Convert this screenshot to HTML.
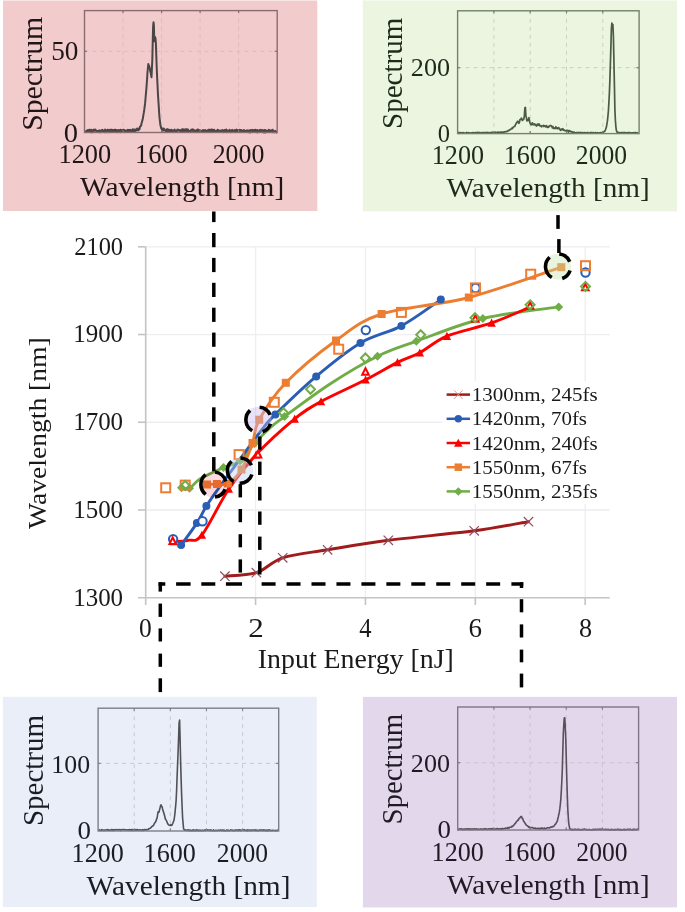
<!DOCTYPE html>
<html><head><meta charset="utf-8"><style>
html,body{margin:0;padding:0;background:#fff;width:685px;height:912px;overflow:hidden}
svg{display:block}
text{font-family:"Liberation Serif",serif}
</style></head><body>
<svg width="685" height="912" viewBox="0 0 685 912">
<rect width="685" height="912" fill="#fff"/>
<rect x="3" y="1" width="314.3" height="210" fill="#F2CBCD"/>
<line x1="123.04" y1="10.6" x2="123.04" y2="132.5" stroke="#dcbcbe" stroke-width="1" stroke-dasharray="4,4"/>
<line x1="161.58" y1="10.6" x2="161.58" y2="132.5" stroke="#dcbcbe" stroke-width="1" stroke-dasharray="4,4"/>
<line x1="200.12" y1="10.6" x2="200.12" y2="132.5" stroke="#dcbcbe" stroke-width="1" stroke-dasharray="4,4"/>
<line x1="238.66" y1="10.6" x2="238.66" y2="132.5" stroke="#dcbcbe" stroke-width="1" stroke-dasharray="4,4"/>
<line x1="84.5" y1="51.3" x2="277.2" y2="51.3" stroke="#dcbcbe" stroke-width="1" stroke-dasharray="4,4"/>
<polyline points="85.1,130.86 85.5,131.16 85.9,132.18 86.3,130.9 86.7,131.01 87.1,131.23 87.5,130.1 87.9,131.02 88.3,131.35 88.7,131.8 89.1,129.84 89.5,130.43 89.9,129.83 90.3,131.84 90.7,131.51 91.1,129.69 91.5,132.32 91.9,132.27 92.3,131.4 92.7,131.29 93.1,130 93.5,129.6 93.9,131.04 94.3,129.72 94.7,130.09 95.1,130.23 95.5,129.64 95.9,130.85 96.3,130.78 96.7,131.91 97.1,131 97.5,131.34 97.9,130.94 98.3,131.39 98.7,130.82 99.1,130.31 99.5,132.33 99.9,132.32 100.3,131.88 100.7,131.51 101.1,130.41 101.5,130.17 101.9,130.33 102.3,129.72 102.7,131.67 103.1,130.64 103.5,131.89 103.9,130.6 104.3,132.2 104.7,131.88 105.1,129.51 105.5,130.1 105.9,132.05 106.3,130.82 106.7,132.25 107.1,130.61 107.5,129.7 107.9,131.26 108.3,131.68 108.7,130.25 109.1,129.74 109.5,130.42 109.9,132.19 110.3,131.61 110.7,129.82 111.1,130.17 111.5,129.76 111.9,129.65 112.3,131.71 112.7,129.97 113.1,131.04 113.5,130.73 113.9,130 114.3,131.52 114.7,129.83 115.1,131.27 115.5,129.79 115.9,130.64 116.3,130.06 116.7,130.21 117.1,132.18 117.5,131.7 117.9,130.3 118.3,131.93 118.7,130.04 119.1,130.55 119.5,131.84 119.9,131.24 120.3,129.72 120.7,132.21 121.1,130.04 121.5,130.16 121.9,131.6 122.3,130.35 122.7,130.26 123.1,129.64 123.5,129.68 123.9,131.06 124.3,130.11 124.7,131.11 125.1,130.46 125.5,130.69 125.9,132.1 126.3,130.77 126.7,131.02 127.1,131.84 127.5,129.92 127.9,129.84 128.3,131.95 128.7,131.7 129.1,130.1 129.5,129.93 129.9,131.47 130.3,132 130.7,129.88 131.1,131.95 131.5,131.72 131.9,130.9 132.3,130.35 132.7,129.42 133.1,129.2 133.5,131.75 133.9,129.68 134.3,130.94 134.7,129.65 135.1,131.2 135.5,130.52 135.9,129.63 136.3,129.17 136.7,130.54 137.1,128.55 137.5,128.84 137.9,129.61 138.3,130.27 138.7,129.44 139.1,128.23 139.5,129.42 139.9,126.82 140.3,126.47 140.7,126.17 141.1,125.53 141.5,123.47 141.9,122.01 142.3,120.64 142.7,119.29 143.1,116.86 143.5,114.33 143.9,112.17 144.3,109.48 144.7,106.29 145.1,103.16 145.5,98.77 145.9,93.97 146.3,89.58 146.7,84.22 147.1,78.89 147.5,72.24 147.9,68.27 148.3,64.06 148.7,65.35 149.1,65.71 149.5,67.28 149.9,68.78 150.3,71.6 150.7,72.49 151.1,75.06 151.5,77.28 151.9,68.98 152.3,60.28 152.7,43.36 153.1,26.57 153.5,22.25 153.9,25.24 154.3,41.31 154.7,40.98 155.1,36.95 155.5,38.4 155.9,43.35 156.3,55.44 156.7,67.09 157.1,76.4 157.5,84.44 157.9,93.02 158.3,99.75 158.7,105.27 159.1,112.09 159.5,117.43 159.9,120.96 160.3,124.44 160.7,126.33 161.1,128.06 161.5,128.56 161.9,129.1 162.3,130.52 162.7,128.51 163.1,130.48 163.5,128.56 163.9,130.26 164.3,130.02 164.7,129.42 165.1,130.83 165.5,130.37 165.9,130.8 166.3,131.68 166.7,129.82 167.1,129.14 167.5,129.95 167.9,131.01 168.3,129.68 168.7,129.59 169.1,131.66 169.5,130.97 169.9,130.36 170.3,131.62 170.7,130.05 171.1,131 171.5,129.69 171.9,130.34 172.3,131.4 172.7,131.7 173.1,131.61 173.5,130.22 173.9,130.78 174.3,130.04 174.7,129.54 175.1,130.55 175.5,131.5 175.9,131.54 176.3,131.16 176.7,131.83 177.1,129.94 177.5,129.65 177.9,130.44 178.3,129.95 178.7,129.78 179.1,130.34 179.5,130.94 179.9,130.57 180.3,130.07 180.7,131.54 181.1,131.94 181.5,130.46 181.9,129.41 182.3,129.29 182.7,131.65 183.1,129.32 183.5,131.19 183.9,130.81 184.3,130.08 184.7,131.43 185.1,129.27 185.5,129.6 185.9,130.5 186.3,129.3 186.7,131.55 187.1,129.9 187.5,129.63 187.9,129.37 188.3,131 188.7,130.49 189.1,131.01 189.5,131.08 189.9,131.51 190.3,131.94 190.7,131.17 191.1,129.82 191.5,130.59 191.9,129.76 192.3,129.3 192.7,130.59 193.1,131.27 193.5,129.77 193.9,130.04 194.3,130.25 194.7,131.23 195.1,130.74 195.5,131.01 195.9,131.41 196.3,130.39 196.7,131.51 197.1,131.83 197.5,129.54 197.9,131.91 198.3,131.33 198.7,129.67 199.1,130.58 199.5,131.06 199.9,131.86 200.3,130.37 200.7,130.91 201.1,131.78 201.5,131.55 201.9,131.97 202.3,130.63 202.7,131.15 203.1,129.91 203.5,131.36 203.9,131.63 204.3,131.14 204.7,131.35 205.1,129.94 205.5,131.87 205.9,132.1 206.3,132.09 206.7,130.86 207.1,131.57 207.5,130.26 207.9,131.91 208.3,131.76 208.7,130.34 209.1,129.6 209.5,130.61 209.9,130.92 210.3,131.53 210.7,130.75 211.1,129.46 211.5,131.65 211.9,129.57 212.3,131.63 212.7,129.88 213.1,130.33 213.5,131.61 213.9,129.79 214.3,129.82 214.7,130.85 215.1,131.44 215.5,131.76 215.9,131.34 216.3,132.06 216.7,130.8 217.1,132.08 217.5,129.67 217.9,130.05 218.3,130.9 218.7,130.24 219.1,131.48 219.5,131.23 219.9,130.9 220.3,131.8 220.7,131.01 221.1,130.32 221.5,130.52 221.9,131.82 222.3,131.98 222.7,130.04 223.1,131.84 223.5,132.17 223.9,130.93 224.3,131.07 224.7,130.03 225.1,130.97 225.5,130.88 225.9,131.17 226.3,129.56 226.7,132.2 227.1,130.93 227.5,130.61 227.9,131.73 228.3,131.07 228.7,130.87 229.1,131.43 229.5,129.68 229.9,131.01 230.3,130.66 230.7,132.19 231.1,132.1 231.5,130.27 231.9,130.84 232.3,129.87 232.7,130.73 233.1,131.81 233.5,132.05 233.9,130.86 234.3,130.42 234.7,130.07 235.1,131.27 235.5,132.13 235.9,129.9 236.3,131.72 236.7,129.61 237.1,130.09 237.5,130.19 237.9,131.48 238.3,130.46 238.7,130.55 239.1,131.3 239.5,129.86 239.9,131.61 240.3,129.91 240.7,131 241.1,130.27 241.5,130.13 241.9,131.06 242.3,130.8 242.7,130.63 243.1,130.74 243.5,131.07 243.9,130.04 244.3,130.16 244.7,131.36 245.1,131.39 245.5,131.08 245.9,131.99 246.3,131.32 246.7,132.01 247.1,130.26 247.5,131.69 247.9,131.88 248.3,132.15 248.7,130.51 249.1,130.51 249.5,132.21 249.9,130.24 250.3,132.43 250.7,132.12 251.1,130.01 251.5,130.31 251.9,131.68 252.3,130.37 252.7,129.92 253.1,131.98 253.5,130.83 253.9,131.87 254.3,130.01 254.7,130.79 255.1,131.58 255.5,129.71 255.9,130.23 256.3,131.58 256.7,132.22 257.1,132.38 257.5,130 257.9,131.09 258.3,131.8 258.7,131.09 259.1,131.61 259.5,130.22 259.9,129.89 260.3,129.99 260.7,129.8 261.1,131.24 261.5,131.14 261.9,131.3 262.3,130.12 262.7,130.23 263.1,130.28 263.5,132.07 263.9,132.49 264.3,132.31 264.7,129.99 265.1,129.9 265.5,132.39 265.9,131.02 266.3,131.87 266.7,130.65 267.1,131.04 267.5,131.18 267.9,130.95 268.3,131.43 268.7,129.78 269.1,131.71 269.5,132.12 269.9,130.26 270.3,131.03 270.7,131.83 271.1,130.9 271.5,130.31 271.9,130.23 272.3,131.2 272.7,129.81 273.1,132.28 273.5,132.02 273.9,131.75 274.3,132.19 274.7,131.55 275.1,130.92 275.5,131.47 275.9,131.2 276.3,132.55 276.7,132.05" fill="none" stroke="#4a4646" stroke-width="2.0" stroke-linejoin="round"/>
<rect x="84.5" y="10.6" width="192.7" height="121.9" fill="none" stroke="#8a6d70" stroke-width="1.4"/>
<line x1="123.04" y1="10.6" x2="123.04" y2="13.1" stroke="#8a6d70" stroke-width="1.2"/>
<line x1="123.04" y1="132.5" x2="123.04" y2="130" stroke="#8a6d70" stroke-width="1.2"/>
<line x1="161.58" y1="10.6" x2="161.58" y2="13.1" stroke="#8a6d70" stroke-width="1.2"/>
<line x1="161.58" y1="132.5" x2="161.58" y2="130" stroke="#8a6d70" stroke-width="1.2"/>
<line x1="200.12" y1="10.6" x2="200.12" y2="13.1" stroke="#8a6d70" stroke-width="1.2"/>
<line x1="200.12" y1="132.5" x2="200.12" y2="130" stroke="#8a6d70" stroke-width="1.2"/>
<line x1="238.66" y1="10.6" x2="238.66" y2="13.1" stroke="#8a6d70" stroke-width="1.2"/>
<line x1="238.66" y1="132.5" x2="238.66" y2="130" stroke="#8a6d70" stroke-width="1.2"/>
<line x1="84.5" y1="51.3" x2="87" y2="51.3" stroke="#8a6d70" stroke-width="1.2"/>
<line x1="277.2" y1="51.3" x2="274.7" y2="51.3" stroke="#8a6d70" stroke-width="1.2"/>
<text x="0" y="0" transform="translate(51.17,60.23)" font-size="27.11" fill="#201616" textLength="27.22" lengthAdjust="spacingAndGlyphs">50</text>
<text x="0" y="0" transform="translate(63.76,142.13)" font-size="26.96" fill="#201616" textLength="14.29" lengthAdjust="spacingAndGlyphs">0</text>
<text x="0" y="0" transform="translate(58.46,163.23)" font-size="26.67" fill="#201616" textLength="52.8" lengthAdjust="spacingAndGlyphs">1200</text>
<text x="0" y="0" transform="translate(134.96,163.23)" font-size="26.67" fill="#201616" textLength="52.8" lengthAdjust="spacingAndGlyphs">1600</text>
<text x="0" y="0" transform="translate(212.64,163.23)" font-size="26.67" fill="#201616" textLength="51.7" lengthAdjust="spacingAndGlyphs">2000</text>
<text x="0" y="0" transform="translate(80.1,196.48) scale(1,0.93)" font-size="28.46" fill="#201616" textLength="204.1" lengthAdjust="spacingAndGlyphs">Wavelength [nm]</text>
<text x="0" y="0" transform="translate(42.37,130.84) rotate(-90) scale(1,0.93)" font-size="31.77" fill="#201616" textLength="114.11" lengthAdjust="spacingAndGlyphs">Spectrum</text>
<rect x="362.8" y="1" width="314.2" height="210.4" fill="#EBF5E0"/>
<line x1="493.9" y1="10.8" x2="493.9" y2="133.6" stroke="#c8d4be" stroke-width="1" stroke-dasharray="4,4"/>
<line x1="530.2" y1="10.8" x2="530.2" y2="133.6" stroke="#c8d4be" stroke-width="1" stroke-dasharray="4,4"/>
<line x1="566.5" y1="10.8" x2="566.5" y2="133.6" stroke="#c8d4be" stroke-width="1" stroke-dasharray="4,4"/>
<line x1="602.8" y1="10.8" x2="602.8" y2="133.6" stroke="#c8d4be" stroke-width="1" stroke-dasharray="4,4"/>
<line x1="457.6" y1="67.7" x2="639.1" y2="67.7" stroke="#c8d4be" stroke-width="1" stroke-dasharray="4,4"/>
<polyline points="457.9,133.26 458.4,132.61 458.9,132.51 459.4,133.28 459.9,132.63 460.4,132.57 460.9,132.99 461.4,132.75 461.9,133.18 462.4,132.65 462.9,133.23 463.4,132.71 463.9,132.93 464.4,133.19 464.9,132.99 465.4,133.18 465.9,133 466.4,132.47 466.9,133.13 467.4,132.89 467.9,132.67 468.4,132.57 468.9,133.09 469.4,132.87 469.9,133.15 470.4,133.02 470.9,133.16 471.4,132.84 471.9,132.94 472.4,132.87 472.9,132.58 473.4,133.14 473.9,132.62 474.4,132.99 474.9,133.12 475.4,132.88 475.9,132.47 476.4,133.01 476.9,132.88 477.4,132.49 477.9,132.38 478.4,132.76 478.9,132.35 479.4,133.07 479.9,132.73 480.4,132.73 480.9,132.64 481.4,132.84 481.9,133.04 482.4,132.55 482.9,132.6 483.4,132.76 483.9,132.53 484.4,132.76 484.9,132.72 485.4,132.62 485.9,132.81 486.4,132.69 486.9,132.34 487.4,133.06 487.9,132.54 488.4,132.6 488.9,132.57 489.4,132.99 489.9,133 490.4,132.65 490.9,132.55 491.4,132.31 491.9,132.94 492.4,132.36 492.9,132.65 493.4,132.49 493.9,132.47 494.4,132.49 494.9,132.35 495.4,132.21 495.9,132.57 496.4,132.75 496.9,132.6 497.4,132.22 497.9,132.58 498.4,132.04 498.9,132.29 499.4,132.6 499.9,132.64 500.4,132.23 500.9,132.49 501.4,132.16 501.9,132.13 502.4,132.13 502.9,132.4 503.4,132.15 503.9,131.89 504.4,132.04 504.9,131.92 505.4,131.58 505.9,131.79 506.4,131.68 506.9,131.38 507.4,131.51 507.9,130.64 508.4,130.75 508.9,130.55 509.4,130 509.9,129.55 510.4,129.65 510.9,129.14 511.4,128.69 511.9,128.2 512.4,128.54 512.9,127.63 513.4,127.03 513.9,126.69 514.4,126.3 514.9,126.38 515.4,124.69 515.9,124.05 516.4,122.86 516.9,122.77 517.4,121.42 517.9,121.34 518.4,122.51 518.9,123.27 519.4,122.37 519.9,119.78 520.4,119.46 520.9,119.4 521.4,118.1 521.9,119.11 522.4,120.35 522.9,119.68 523.4,119.68 523.9,118.88 524.4,115.13 524.9,107.7 525.4,107.46 525.9,115.95 526.4,117.63 526.9,120.91 527.4,119.82 527.9,120.65 528.4,119.54 528.9,117.74 529.4,120.23 529.9,122.61 530.4,123.65 530.9,124.73 531.4,123.52 531.9,124.69 532.4,122.87 532.9,123.82 533.4,124.74 533.9,124.79 534.4,123.9 534.9,124.84 535.4,124.38 535.9,125.12 536.4,126.09 536.9,125.84 537.4,124.05 537.9,124.63 538.4,124.98 538.9,123.88 539.4,125.37 539.9,125.89 540.4,125.54 540.9,125.49 541.4,126.8 541.9,126.46 542.4,125.74 542.9,125.76 543.4,125.35 543.9,126.54 544.4,125.72 544.9,125.93 545.4,126.33 545.9,126.9 546.4,125.58 546.9,126.26 547.4,127.45 547.9,127.47 548.4,126.64 548.9,127.01 549.4,125.92 549.9,125.69 550.4,125.3 550.9,125.79 551.4,125.74 551.9,126.64 552.4,127.87 552.9,126.57 553.4,127.72 553.9,128.66 554.4,128.13 554.9,127.9 555.4,128.3 555.9,126.73 556.4,128.5 556.9,127.89 557.4,128.38 557.9,128.75 558.4,127.63 558.9,127.9 559.4,128.46 559.9,129.44 560.4,130.31 560.9,130.17 561.4,129.09 561.9,129.43 562.4,129.58 562.9,128.68 563.4,130.14 563.9,130.33 564.4,130.15 564.9,130.75 565.4,130.8 565.9,130.75 566.4,130.34 566.9,130.51 567.4,130.58 567.9,130.35 568.4,132.22 568.9,131.09 569.4,130.67 569.9,131.39 570.4,131.09 570.9,131.9 571.4,131.81 571.9,131.62 572.4,132.3 572.9,132.24 573.4,132.18 573.9,133.16 574.4,132.21 574.9,132.74 575.4,133.03 575.9,133.15 576.4,132.7 576.9,132.44 577.4,133.17 577.9,132.82 578.4,132.58 578.9,132.51 579.4,132.61 579.9,132.66 580.4,132.53 580.9,132.46 581.4,133.22 581.9,133.08 582.4,132.52 582.9,132.81 583.4,133.07 583.9,132.84 584.4,132.49 584.9,132.71 585.4,132.74 585.9,133.17 586.4,132.91 586.9,132.81 587.4,132.95 587.9,132.49 588.4,133 588.9,133.1 589.4,132.99 589.9,132.75 590.4,132.69 590.9,132.47 591.4,132.53 591.9,132.59 592.4,132.83 592.9,133.09 593.4,132.65 593.9,132.85 594.4,132.99 594.9,132.98 595.4,132.5 595.9,133.22 596.4,132.95 596.9,132.73 597.4,132.68 597.9,133.04 598.4,133.24 598.9,132.77 599.4,132.82 599.9,132.95 600.4,132.56 600.9,132.64 601.4,132.95 601.9,132.57 602.4,132.68 602.9,132.13 603.4,132.33 603.9,131.94 604.4,131.17 604.9,131.09 605.4,130 605.9,128.49 606.4,127.08 606.9,123.88 607.4,121.21 607.9,116.42 608.4,110.99 608.9,102.2 609.4,92.81 609.9,79.64 610.4,63.28 610.9,46.36 611.4,28.27 611.9,23.19 612.4,26.44 612.9,24.46 613.4,36.35 613.9,60.22 614.4,84.63 614.9,109.74 615.4,120.77 615.9,127.04 616.4,130.7 616.9,131.72 617.4,132.76 617.9,132.61 618.4,132.41 618.9,132.76 619.4,133.06 619.9,132.54 620.4,133.17 620.9,132.82 621.4,132.55 621.9,132.5 622.4,132.72 622.9,132.81 623.4,132.57 623.9,132.5 624.4,132.83 624.9,132.64 625.4,132.79 625.9,132.8 626.4,133 626.9,132.91 627.4,132.63 627.9,132.59 628.4,133.14 628.9,132.49 629.4,132.55 629.9,132.51 630.4,133.12 630.9,132.89 631.4,133.2 631.9,132.97 632.4,132.74 632.9,132.82 633.4,133.06 633.9,132.66 634.4,133.12 634.9,132.81 635.4,132.52 635.9,132.76 636.4,132.94 636.9,132.61 637.4,133.22 637.9,133.24 638.4,132.91" fill="none" stroke="#4c5a46" stroke-width="1.7" stroke-linejoin="round"/>
<rect x="457.6" y="10.8" width="181.5" height="122.8" fill="none" stroke="#73826b" stroke-width="1.4"/>
<line x1="493.9" y1="10.8" x2="493.9" y2="13.3" stroke="#73826b" stroke-width="1.2"/>
<line x1="493.9" y1="133.6" x2="493.9" y2="131.1" stroke="#73826b" stroke-width="1.2"/>
<line x1="530.2" y1="10.8" x2="530.2" y2="13.3" stroke="#73826b" stroke-width="1.2"/>
<line x1="530.2" y1="133.6" x2="530.2" y2="131.1" stroke="#73826b" stroke-width="1.2"/>
<line x1="566.5" y1="10.8" x2="566.5" y2="13.3" stroke="#73826b" stroke-width="1.2"/>
<line x1="566.5" y1="133.6" x2="566.5" y2="131.1" stroke="#73826b" stroke-width="1.2"/>
<line x1="602.8" y1="10.8" x2="602.8" y2="13.3" stroke="#73826b" stroke-width="1.2"/>
<line x1="602.8" y1="133.6" x2="602.8" y2="131.1" stroke="#73826b" stroke-width="1.2"/>
<line x1="457.6" y1="67.7" x2="460.1" y2="67.7" stroke="#73826b" stroke-width="1.2"/>
<line x1="639.1" y1="67.7" x2="636.6" y2="67.7" stroke="#73826b" stroke-width="1.2"/>
<text x="0" y="0" transform="translate(410.82,76.35)" font-size="25.19" fill="#1e2a1a" textLength="39.22" lengthAdjust="spacingAndGlyphs">200</text>
<text x="0" y="0" transform="translate(437.72,142.26)" font-size="24.15" fill="#1e2a1a" textLength="12.26" lengthAdjust="spacingAndGlyphs">0</text>
<text x="0" y="0" transform="translate(431.78,164.13)" font-size="26.67" fill="#1e2a1a" textLength="52.27" lengthAdjust="spacingAndGlyphs">1200</text>
<text x="0" y="0" transform="translate(503.78,164.13)" font-size="26.67" fill="#1e2a1a" textLength="52.27" lengthAdjust="spacingAndGlyphs">1600</text>
<text x="0" y="0" transform="translate(575.85,164.13)" font-size="26.67" fill="#1e2a1a" textLength="51.17" lengthAdjust="spacingAndGlyphs">2000</text>
<text x="0" y="0" transform="translate(446.6,197.41) scale(1,0.93)" font-size="28.79" fill="#1e2a1a" textLength="203.19" lengthAdjust="spacingAndGlyphs">Wavelength [nm]</text>
<text x="0" y="0" transform="translate(402.4,128.89) rotate(-90) scale(1,0.93)" font-size="32.57" fill="#1e2a1a" textLength="111.15" lengthAdjust="spacingAndGlyphs">Spectrum</text>
<rect x="2.8" y="696.8" width="314" height="210.2" fill="#EAEEF8"/>
<line x1="134.22" y1="708.2" x2="134.22" y2="831" stroke="#c5c9d3" stroke-width="1" stroke-dasharray="4,4"/>
<line x1="170.34" y1="708.2" x2="170.34" y2="831" stroke="#c5c9d3" stroke-width="1" stroke-dasharray="4,4"/>
<line x1="206.46" y1="708.2" x2="206.46" y2="831" stroke="#c5c9d3" stroke-width="1" stroke-dasharray="4,4"/>
<line x1="242.58" y1="708.2" x2="242.58" y2="831" stroke="#c5c9d3" stroke-width="1" stroke-dasharray="4,4"/>
<line x1="98.1" y1="763.4" x2="278.7" y2="763.4" stroke="#c5c9d3" stroke-width="1" stroke-dasharray="4,4"/>
<polyline points="98.1,830.07 98.6,830.13 99.1,830.32 99.6,829.78 100.1,830.15 100.6,830.39 101.1,830.41 101.6,829.69 102.1,830.15 102.6,830.12 103.1,830 103.6,830.47 104.1,830.03 104.6,829.95 105.1,830.44 105.6,830.14 106.1,829.8 106.6,829.81 107.1,830 107.6,829.55 108.1,830.11 108.6,830.24 109.1,829.93 109.6,830.35 110.1,830.43 110.6,830.06 111.1,830.18 111.6,829.62 112.1,829.56 112.6,830.48 113.1,829.78 113.6,829.71 114.1,830.4 114.6,830.25 115.1,829.62 115.6,829.82 116.1,829.74 116.6,829.77 117.1,829.51 117.6,830.02 118.1,829.8 118.6,829.89 119.1,829.69 119.6,829.61 120.1,829.53 120.6,830.37 121.1,830.25 121.6,830.06 122.1,829.62 122.6,829.65 123.1,829.62 123.6,829.82 124.1,829.56 124.6,829.78 125.1,829.7 125.6,829.69 126.1,830.15 126.6,829.96 127.1,829.97 127.6,829.86 128.1,830.04 128.6,830.29 129.1,829.81 129.6,829.57 130.1,829.98 130.6,829.88 131.1,830.28 131.6,829.61 132.1,830.37 132.6,829.51 133.1,830.04 133.6,829.94 134.1,829.82 134.6,830.39 135.1,830.2 135.6,829.66 136.1,829.99 136.6,830.11 137.1,829.53 137.6,829.59 138.1,830.1 138.6,830.23 139.1,829.96 139.6,829.92 140.1,830.01 140.6,829.76 141.1,830.38 141.6,830.46 142.1,829.98 142.6,829.52 143.1,829.9 143.6,830.3 144.1,829.82 144.6,829.56 145.1,829.61 145.6,830.1 146.1,829.97 146.6,829.6 147.1,829.75 147.6,829.61 148.1,829.53 148.6,829.12 149.1,828.44 149.6,828.53 150.1,828.34 150.6,827.88 151.1,827.36 151.6,826.79 152.1,826.31 152.6,826.24 153.1,825.61 153.6,825.3 154.1,824.06 154.6,823.09 155.1,822.44 155.6,821.85 156.1,820.65 156.6,819.09 157.1,817.89 157.6,814.58 158.1,811.88 158.6,812.41 159.1,811.94 159.6,809.7 160.1,807.66 160.6,805.42 161.1,804.96 161.6,806.34 162.1,806.8 162.6,809.02 163.1,810.88 163.6,812.17 164.1,813.98 164.6,815.65 165.1,818.1 165.6,819.46 166.1,820 166.6,820.99 167.1,822.2 167.6,823.56 168.1,824.31 168.6,824.77 169.1,825.2 169.6,825.27 170.1,825.46 170.6,824.74 171.1,824.76 171.6,825.41 172.1,824.96 172.6,823.79 173.1,822.55 173.6,821.37 174.1,819.76 174.6,816.1 175.1,811.7 175.6,806.4 176.1,800.78 176.6,790.48 177.1,776.71 177.6,763.73 178.1,751.59 178.6,737.43 179.1,722.8 179.6,720.04 180.1,738.96 180.6,760.64 181.1,778.23 181.6,794.18 182.1,806.54 182.6,817.76 183.1,823.42 183.6,828.95 184.1,829.35 184.6,830.22 185.1,829.74 185.6,830.25 186.1,830.18 186.6,830.08 187.1,830.52 187.6,830.02 188.1,829.84 188.6,829.96 189.1,830.78 189.6,830.15 190.1,829.92 190.6,830.77 191.1,830.45 191.6,830.76 192.1,830.13 192.6,830.61 193.1,829.84 193.6,830.04 194.1,830.59 194.6,830.32 195.1,830.59 195.6,830.19 196.1,830.68 196.6,829.88 197.1,830.42 197.6,829.99 198.1,830 198.6,830.68 199.1,830.23 199.6,830.61 200.1,830.08 200.6,830.53 201.1,830.71 201.6,830.43 202.1,830.03 202.6,830.47 203.1,830.75 203.6,830.6 204.1,830.24 204.6,830.2 205.1,829.9 205.6,830.57 206.1,829.96 206.6,830.02 207.1,829.83 207.6,829.96 208.1,830.18 208.6,830.28 209.1,829.98 209.6,830.22 210.1,830.56 210.6,829.9 211.1,829.94 211.6,830.32 212.1,830.7 212.6,830.72 213.1,830.37 213.6,829.89 214.1,830.67 214.6,830.79 215.1,830.7 215.6,830.33 216.1,830.18 216.6,830.39 217.1,830.59 217.6,830.79 218.1,830.29 218.6,830.31 219.1,830.11 219.6,830.34 220.1,830.34 220.6,830.08 221.1,830.26 221.6,830.72 222.1,830.04 222.6,830.05 223.1,830.1 223.6,830.66 224.1,830.1 224.6,830.63 225.1,830.73 225.6,830.68 226.1,830.6 226.6,829.99 227.1,830.25 227.6,830.62 228.1,830.05 228.6,830.4 229.1,830.67 229.6,830.73 230.1,830.15 230.6,829.92 231.1,829.83 231.6,830.12 232.1,830.35 232.6,830.08 233.1,830.62 233.6,830.45 234.1,830.42 234.6,830.63 235.1,830.13 235.6,830.45 236.1,830.15 236.6,830.09 237.1,829.91 237.6,830.59 238.1,830.7 238.6,829.83 239.1,830.52 239.6,829.86 240.1,830.22 240.6,830.12 241.1,830.7 241.6,830.23 242.1,830.31 242.6,830.16 243.1,830.05 243.6,830.04 244.1,829.86 244.6,829.81 245.1,830.35 245.6,830.54 246.1,830.47 246.6,830.06 247.1,830.79 247.6,829.88 248.1,830.23 248.6,830.13 249.1,829.98 249.6,830.76 250.1,830.52 250.6,829.93 251.1,829.98 251.6,830.61 252.1,830.17 252.6,830.1 253.1,830.1 253.6,830.13 254.1,830.39 254.6,830.11 255.1,830.39 255.6,829.86 256.1,830.34 256.6,830.38 257.1,830.12 257.6,830.67 258.1,830.73 258.6,830.46 259.1,830.21 259.6,829.97 260.1,830.43 260.6,830.09 261.1,829.96 261.6,830.33 262.1,830 262.6,830.44 263.1,830.56 263.6,829.81 264.1,830.43 264.6,829.99 265.1,830.14 265.6,830.52 266.1,830.77 266.6,830.11 267.1,830.55 267.6,830.15 268.1,830.74 268.6,829.97 269.1,830.46 269.6,829.88 270.1,830.36 270.6,830.54 271.1,830.71 271.6,830.57 272.1,830.35 272.6,830.2 273.1,830.43 273.6,830.45 274.1,830.41 274.6,830.51 275.1,830.55 275.6,830.74 276.1,830.42 276.6,830.68 277.1,830.54 277.6,830.18 278.1,830.6" fill="none" stroke="#4f5157" stroke-width="1.6" stroke-linejoin="round"/>
<rect x="98.1" y="708.2" width="180.6" height="122.8" fill="none" stroke="#7c7f8a" stroke-width="1.4"/>
<line x1="134.22" y1="708.2" x2="134.22" y2="710.7" stroke="#7c7f8a" stroke-width="1.2"/>
<line x1="134.22" y1="831" x2="134.22" y2="828.5" stroke="#7c7f8a" stroke-width="1.2"/>
<line x1="170.34" y1="708.2" x2="170.34" y2="710.7" stroke="#7c7f8a" stroke-width="1.2"/>
<line x1="170.34" y1="831" x2="170.34" y2="828.5" stroke="#7c7f8a" stroke-width="1.2"/>
<line x1="206.46" y1="708.2" x2="206.46" y2="710.7" stroke="#7c7f8a" stroke-width="1.2"/>
<line x1="206.46" y1="831" x2="206.46" y2="828.5" stroke="#7c7f8a" stroke-width="1.2"/>
<line x1="242.58" y1="708.2" x2="242.58" y2="710.7" stroke="#7c7f8a" stroke-width="1.2"/>
<line x1="242.58" y1="831" x2="242.58" y2="828.5" stroke="#7c7f8a" stroke-width="1.2"/>
<line x1="98.1" y1="763.4" x2="100.6" y2="763.4" stroke="#7c7f8a" stroke-width="1.2"/>
<line x1="278.7" y1="763.4" x2="276.2" y2="763.4" stroke="#7c7f8a" stroke-width="1.2"/>
<text x="0" y="0" transform="translate(51.31,773.35)" font-size="24.89" fill="#1b1d24" textLength="38.73" lengthAdjust="spacingAndGlyphs">100</text>
<text x="0" y="0" transform="translate(77.62,839.25)" font-size="25.19" fill="#1b1d24" textLength="13.45" lengthAdjust="spacingAndGlyphs">0</text>
<text x="0" y="0" transform="translate(71.58,861.63)" font-size="26.67" fill="#1b1d24" textLength="52.27" lengthAdjust="spacingAndGlyphs">1200</text>
<text x="0" y="0" transform="translate(143.58,861.63)" font-size="26.67" fill="#1b1d24" textLength="52.27" lengthAdjust="spacingAndGlyphs">1600</text>
<text x="0" y="0" transform="translate(216.85,861.63)" font-size="26.67" fill="#1b1d24" textLength="51.17" lengthAdjust="spacingAndGlyphs">2000</text>
<text x="0" y="0" transform="translate(86.6,895.36) scale(1,0.93)" font-size="29.01" fill="#1b1d24" textLength="203.9" lengthAdjust="spacingAndGlyphs">Wavelength [nm]</text>
<text x="0" y="0" transform="translate(42.77,826.08) rotate(-90) scale(1,0.93)" font-size="32.69" fill="#1b1d24" textLength="111.05" lengthAdjust="spacingAndGlyphs">Spectrum</text>
<rect x="362.9" y="696.9" width="314.1" height="210.5" fill="#E3D7EC"/>
<line x1="493.88" y1="707" x2="493.88" y2="830" stroke="#cbc1d5" stroke-width="1" stroke-dasharray="4,4"/>
<line x1="530.06" y1="707" x2="530.06" y2="830" stroke="#cbc1d5" stroke-width="1" stroke-dasharray="4,4"/>
<line x1="566.24" y1="707" x2="566.24" y2="830" stroke="#cbc1d5" stroke-width="1" stroke-dasharray="4,4"/>
<line x1="602.42" y1="707" x2="602.42" y2="830" stroke="#cbc1d5" stroke-width="1" stroke-dasharray="4,4"/>
<line x1="457.7" y1="762.7" x2="638.6" y2="762.7" stroke="#cbc1d5" stroke-width="1" stroke-dasharray="4,4"/>
<polyline points="457.8,829.22 458.3,829.33 458.8,829.62 459.3,829 459.8,829.04 460.3,828.86 460.8,828.93 461.3,828.83 461.8,828.96 462.3,829.28 462.8,829.7 463.3,829.43 463.8,829.15 464.3,829.17 464.8,829.42 465.3,829.09 465.8,828.86 466.3,829.55 466.8,829.34 467.3,828.88 467.8,828.84 468.3,828.86 468.8,829.63 469.3,828.86 469.8,829.33 470.3,829.63 470.8,828.79 471.3,829.1 471.8,829.18 472.3,829.57 472.8,828.91 473.3,828.97 473.8,828.96 474.3,828.78 474.8,829.33 475.3,829.46 475.8,829.11 476.3,828.75 476.8,829.36 477.3,829.37 477.8,829.29 478.3,829 478.8,829.45 479.3,829.26 479.8,829.22 480.3,829.18 480.8,828.9 481.3,829.09 481.8,829.39 482.3,829.29 482.8,828.98 483.3,829.41 483.8,829.42 484.3,828.7 484.8,828.8 485.3,828.85 485.8,828.66 486.3,829.32 486.8,829.23 487.3,829.13 487.8,829.53 488.3,828.95 488.8,828.81 489.3,828.73 489.8,828.93 490.3,829.37 490.8,829.16 491.3,828.66 491.8,829 492.3,828.65 492.8,829.16 493.3,828.71 493.8,828.76 494.3,829.17 494.8,829.34 495.3,829.14 495.8,828.84 496.3,829.16 496.8,828.82 497.3,828.58 497.8,828.81 498.3,829.18 498.8,829.12 499.3,828.73 499.8,829.31 500.3,829.27 500.8,828.72 501.3,829.28 501.8,828.61 502.3,828.38 502.8,828.73 503.3,829 503.8,828.71 504.3,828.61 504.8,828.51 505.3,828.25 505.8,828.16 506.3,828.15 506.8,828.18 507.3,828.44 507.8,827.56 508.3,827.62 508.8,828.14 509.3,827.78 509.8,827.16 510.3,827.3 510.8,827.24 511.3,827.22 511.8,826.23 512.3,826.71 512.8,826.34 513.3,825.45 513.8,825.1 514.3,824.78 514.8,823.67 515.3,823.5 515.8,822.79 516.3,821.76 516.8,821.33 517.3,820.86 517.8,820.02 518.3,820.14 518.8,818.9 519.3,818.26 519.8,817.96 520.3,817.27 520.8,816.69 521.3,816.44 521.8,817.1 522.3,818.47 522.8,818.72 523.3,820.47 523.8,821.49 524.3,822.11 524.8,822.97 525.3,823.34 525.8,824.62 526.3,825 526.8,825.41 527.3,825.67 527.8,825.93 528.3,826.82 528.8,827.33 529.3,826.92 529.8,827.31 530.3,827.62 530.8,827.45 531.3,827.48 531.8,827.65 532.3,827.61 532.8,827.81 533.3,828.12 533.8,828.25 534.3,828.4 534.8,828.13 535.3,828 535.8,828.74 536.3,828.51 536.8,828.58 537.3,828.62 537.8,828.31 538.3,828.59 538.8,828.37 539.3,828.7 539.8,828.87 540.3,828.15 540.8,828.83 541.3,828.19 541.8,828.07 542.3,828.1 542.8,828.52 543.3,828.76 543.8,828.79 544.3,828.08 544.8,828.3 545.3,828.73 545.8,828.66 546.3,828.54 546.8,827.93 547.3,827.87 547.8,827.67 548.3,827.68 548.8,827.72 549.3,827.99 549.8,827.78 550.3,827.18 550.8,826.99 551.3,827.04 551.8,827.23 552.3,826.66 552.8,826.74 553.3,826.45 553.8,826.42 554.3,825.6 554.8,824.82 555.3,824.23 555.8,823.87 556.3,822.73 556.8,821.99 557.3,821.1 557.8,818.78 558.3,816.93 558.8,814.51 559.3,812.39 559.8,808.95 560.3,804.47 560.8,799.45 561.3,791.33 561.8,781.17 562.3,769.94 562.8,751.37 563.3,733.91 563.8,724.49 564.3,717.71 564.8,718.12 565.3,727.93 565.8,739.84 566.3,759.63 566.8,778.78 567.3,795.52 567.8,809.4 568.3,817.45 568.8,824.08 569.3,826.31 569.8,829.14 570.3,829.37 570.8,829.13 571.3,829.56 571.8,829.94 572.3,829.3 572.8,829.87 573.3,829.58 573.8,830 574.3,829.22 574.8,829.49 575.3,829.3 575.8,829.38 576.3,829.95 576.8,829.63 577.3,829.47 577.8,830.02 578.3,829.2 578.8,829.17 579.3,829.84 579.8,829.65 580.3,829.9 580.8,829.6 581.3,830 581.8,829.45 582.3,829.36 582.8,829.95 583.3,829.63 583.8,829.18 584.3,829.16 584.8,829.16 585.3,829.81 585.8,829.72 586.3,829.25 586.8,829.87 587.3,829.85 587.8,829.72 588.3,829.67 588.8,829.54 589.3,829.77 589.8,829.5 590.3,829.98 590.8,829.68 591.3,829.76 591.8,829.98 592.3,830.03 592.8,829.63 593.3,829.25 593.8,829.62 594.3,829.98 594.8,829.34 595.3,829.38 595.8,829.4 596.3,829.36 596.8,829.88 597.3,829.63 597.8,829.23 598.3,829.61 598.8,829.78 599.3,829.17 599.8,829.33 600.3,829.16 600.8,829.78 601.3,829.51 601.8,829.16 602.3,829.37 602.8,829.32 603.3,829.66 603.8,829.53 604.3,829.53 604.8,829.45 605.3,829.19 605.8,829.44 606.3,829.72 606.8,829.63 607.3,829.68 607.8,829.29 608.3,829.19 608.8,829.84 609.3,829.79 609.8,829.74 610.3,830.02 610.8,829.43 611.3,829.81 611.8,829.41 612.3,829.69 612.8,829.97 613.3,829.56 613.8,829.7 614.3,830.04 614.8,829.59 615.3,829.37 615.8,830.01 616.3,829.76 616.8,829.44 617.3,829.4 617.8,829.17 618.3,829.23 618.8,830.03 619.3,829.65 619.8,829.85 620.3,829.37 620.8,829.91 621.3,829.79 621.8,829.94 622.3,829.59 622.8,829.98 623.3,829.66 623.8,829.28 624.3,829.97 624.8,829.42 625.3,829.98 625.8,829.64 626.3,829.51 626.8,829.62 627.3,829.49 627.8,829.22 628.3,829.19 628.8,829.23 629.3,829.96 629.8,829.46 630.3,829.17 630.8,829.51 631.3,829.72 631.8,829.72 632.3,829.97 632.8,829.47 633.3,830.01 633.8,829.16 634.3,829.29 634.8,829.59 635.3,829.73 635.8,829.53 636.3,829.86 636.8,829.64 637.3,829.15 637.8,829.5" fill="none" stroke="#55505a" stroke-width="1.6" stroke-linejoin="round"/>
<rect x="457.7" y="707" width="180.9" height="123" fill="none" stroke="#807689" stroke-width="1.4"/>
<line x1="493.88" y1="707" x2="493.88" y2="709.5" stroke="#807689" stroke-width="1.2"/>
<line x1="493.88" y1="830" x2="493.88" y2="827.5" stroke="#807689" stroke-width="1.2"/>
<line x1="530.06" y1="707" x2="530.06" y2="709.5" stroke="#807689" stroke-width="1.2"/>
<line x1="530.06" y1="830" x2="530.06" y2="827.5" stroke="#807689" stroke-width="1.2"/>
<line x1="566.24" y1="707" x2="566.24" y2="709.5" stroke="#807689" stroke-width="1.2"/>
<line x1="566.24" y1="830" x2="566.24" y2="827.5" stroke="#807689" stroke-width="1.2"/>
<line x1="602.42" y1="707" x2="602.42" y2="709.5" stroke="#807689" stroke-width="1.2"/>
<line x1="602.42" y1="830" x2="602.42" y2="827.5" stroke="#807689" stroke-width="1.2"/>
<line x1="457.7" y1="762.7" x2="460.2" y2="762.7" stroke="#807689" stroke-width="1.2"/>
<line x1="638.6" y1="762.7" x2="636.1" y2="762.7" stroke="#807689" stroke-width="1.2"/>
<text x="0" y="0" transform="translate(410.82,771.75)" font-size="24.74" fill="#1f1a24" textLength="39.22" lengthAdjust="spacingAndGlyphs">200</text>
<text x="0" y="0" transform="translate(437.62,838.26)" font-size="24.44" fill="#1f1a24" textLength="13.45" lengthAdjust="spacingAndGlyphs">0</text>
<text x="0" y="0" transform="translate(431.58,860.53)" font-size="27.41" fill="#1f1a24" textLength="52.27" lengthAdjust="spacingAndGlyphs">1200</text>
<text x="0" y="0" transform="translate(503.28,860.53)" font-size="27.41" fill="#1f1a24" textLength="52.27" lengthAdjust="spacingAndGlyphs">1600</text>
<text x="0" y="0" transform="translate(576.35,860.53)" font-size="27.41" fill="#1f1a24" textLength="51.17" lengthAdjust="spacingAndGlyphs">2000</text>
<text x="0" y="0" transform="translate(447,894.4) scale(1,0.93)" font-size="30.22" fill="#1f1a24" textLength="202.68" lengthAdjust="spacingAndGlyphs">Wavelength [nm]</text>
<text x="0" y="0" transform="translate(402.47,824.58) rotate(-90) scale(1,0.93)" font-size="32.23" fill="#1f1a24" textLength="110.74" lengthAdjust="spacingAndGlyphs">Spectrum</text>
<rect x="3" y="0" width="314.3" height="1" fill="#F2CBCD" fill-opacity="0.5"/>
<rect x="362.8" y="0" width="314.2" height="1" fill="#EBF5E0" fill-opacity="0.5"/>
<line x1="145.7" y1="509.98" x2="609.7" y2="509.98" stroke="#ededf2" stroke-width="1.3"/>
<line x1="145.7" y1="422.25" x2="609.7" y2="422.25" stroke="#ededf2" stroke-width="1.3"/>
<line x1="145.7" y1="334.53" x2="609.7" y2="334.53" stroke="#ededf2" stroke-width="1.3"/>
<line x1="145.7" y1="246.8" x2="609.7" y2="246.8" stroke="#ededf2" stroke-width="1.3"/>
<line x1="255.57" y1="246.8" x2="255.57" y2="597.7" stroke="#ededf2" stroke-width="1.3"/>
<line x1="365.45" y1="246.8" x2="365.45" y2="597.7" stroke="#ededf2" stroke-width="1.3"/>
<line x1="475.33" y1="246.8" x2="475.33" y2="597.7" stroke="#ededf2" stroke-width="1.3"/>
<line x1="585.2" y1="246.8" x2="585.2" y2="597.7" stroke="#ededf2" stroke-width="1.3"/>
<line x1="145.7" y1="246.8" x2="145.7" y2="605" stroke="#c4c4c4" stroke-width="1.6"/>
<line x1="138" y1="597.7" x2="609.7" y2="597.7" stroke="#c4c4c4" stroke-width="1.6"/>
<line x1="138" y1="509.98" x2="145.7" y2="509.98" stroke="#c4c4c4" stroke-width="1.6"/>
<line x1="138" y1="422.25" x2="145.7" y2="422.25" stroke="#c4c4c4" stroke-width="1.6"/>
<line x1="138" y1="334.53" x2="145.7" y2="334.53" stroke="#c4c4c4" stroke-width="1.6"/>
<line x1="138" y1="246.8" x2="145.7" y2="246.8" stroke="#c4c4c4" stroke-width="1.6"/>
<line x1="255.57" y1="597.7" x2="255.57" y2="605" stroke="#c4c4c4" stroke-width="1.6"/>
<line x1="365.45" y1="597.7" x2="365.45" y2="605" stroke="#c4c4c4" stroke-width="1.6"/>
<line x1="475.33" y1="597.7" x2="475.33" y2="605" stroke="#c4c4c4" stroke-width="1.6"/>
<line x1="585.2" y1="597.7" x2="585.2" y2="605" stroke="#c4c4c4" stroke-width="1.6"/>
<text x="0" y="0" transform="translate(73.18,605.54)" font-size="25.78" fill="#1a1a1a" textLength="49.92" lengthAdjust="spacingAndGlyphs">1300</text>
<text x="0" y="0" transform="translate(73.18,517.82)" font-size="25.78" fill="#1a1a1a" textLength="49.92" lengthAdjust="spacingAndGlyphs">1500</text>
<text x="0" y="0" transform="translate(73.18,430.09)" font-size="25.78" fill="#1a1a1a" textLength="49.92" lengthAdjust="spacingAndGlyphs">1700</text>
<text x="0" y="0" transform="translate(73.18,342.37)" font-size="25.78" fill="#1a1a1a" textLength="49.92" lengthAdjust="spacingAndGlyphs">1900</text>
<text x="0" y="0" transform="translate(74.2,254.64)" font-size="25.78" fill="#1a1a1a" textLength="48.88" lengthAdjust="spacingAndGlyphs">2100</text>
<text x="0" y="0" transform="translate(138.98,636.53)" font-size="26.67" fill="#1a1a1a" textLength="12.74" lengthAdjust="spacingAndGlyphs">0</text>
<text x="0" y="0" transform="translate(248.3,636.6)" font-size="27.42" fill="#1a1a1a" textLength="15.5" lengthAdjust="spacingAndGlyphs">2</text>
<text x="0" y="0" transform="translate(359.31,636.6)" font-size="27.42" fill="#1a1a1a" textLength="12.26" lengthAdjust="spacingAndGlyphs">4</text>
<text x="0" y="0" transform="translate(468.52,636.53)" font-size="27.31" fill="#1a1a1a" textLength="13.49" lengthAdjust="spacingAndGlyphs">6</text>
<text x="0" y="0" transform="translate(578.95,636.53)" font-size="27.11" fill="#1a1a1a" textLength="13.1" lengthAdjust="spacingAndGlyphs">8</text>
<text x="0" y="0" transform="translate(257.83,667.69) scale(1,0.93)" font-size="28.9" fill="#1a1a1a" textLength="195.95" lengthAdjust="spacingAndGlyphs">Input Energy [nJ]</text>
<text x="0" y="0" transform="translate(45.68,528.9) rotate(-90) scale(1,0.93)" font-size="26.59" fill="#1a1a1a" textLength="191.66" lengthAdjust="spacingAndGlyphs">Wavelength [nm]</text>
<path d="M224.9,576.2 C230.15,575.62 246.77,575.77 256.4,572.7 C266.03,569.63 270.83,561.62 282.7,557.8 C294.57,553.98 310,552.72 327.6,549.8 C345.2,546.88 363.87,543.47 388.3,540.3 C412.73,537.13 450.83,533.9 474.2,530.8 C497.57,527.7 519.45,523.22 528.5,521.7" fill="none" stroke="#a01b1b" stroke-width="2.9" stroke-linejoin="round" stroke-linecap="round"/>
<path d="M181.5,487.8 C182.83,487.88 186.42,489.77 189.5,488.3 C192.58,486.83 194.33,482.47 200,479 C205.67,475.53 216.83,470.5 223.5,467.5 C230.17,464.5 234.83,465 240,461 C245.17,457 249.33,449.17 254.5,443.5 C259.67,437.83 266,431.48 271,427 C276,422.52 274.67,423.77 284.5,416.6 C294.33,409.43 314.5,394.05 330,384 C345.5,373.95 363.12,363.42 377.5,356.3 C391.88,349.18 398.73,347.6 416.3,341.3 C433.87,335 459.17,324.23 482.9,318.5 C506.63,312.77 546.07,308.83 558.7,306.9" fill="none" stroke="#70ad47" stroke-width="2.9" stroke-linejoin="round" stroke-linecap="round"/>
<path d="M173.5,541.5 C175.92,541.3 183.27,541.38 188,540.3 C192.73,539.22 195.1,543.55 201.9,535 C208.7,526.45 219.75,502.4 228.8,489 C237.85,475.6 245.22,466.28 256.2,454.6 C267.18,442.92 283.9,427.75 294.7,418.9 C305.5,410.05 309.18,408.02 321,401.5 C332.82,394.98 352.85,386.32 365.6,379.8 C378.35,373.28 388.47,366.92 397.5,362.4 C406.53,357.88 411.57,357.08 419.8,352.7 C428.03,348.32 434.93,341.07 446.9,336.1 C458.87,331.13 477.75,327.72 491.6,322.9 C505.45,318.08 523.6,309.82 530,307.2" fill="none" stroke="#ff0000" stroke-width="2.9" stroke-linejoin="round" stroke-linecap="round"/>
<path d="M181.1,545 C183.73,541.35 192.68,529.58 196.9,523.1 C201.12,516.62 202.8,511.87 206.4,506.1 C210,500.33 214.48,494.18 218.5,488.5 C222.52,482.82 226.42,477.58 230.5,472 C234.58,466.42 237.75,462.08 243,455 C248.25,447.92 256.6,436.27 262,429.5 C267.4,422.73 266.37,423.25 275.4,414.4 C284.43,405.55 302.02,388.3 316.2,376.4 C330.38,364.5 346.3,351.42 360.5,343 C374.7,334.58 388.02,333.13 401.4,325.9 C414.78,318.67 434.23,303.98 440.8,299.6" fill="none" stroke="#2a5db4" stroke-width="2.9" stroke-linejoin="round" stroke-linecap="round"/>
<path d="M207,484.5 C208.67,484.42 213.53,484.17 217,484 C220.47,483.83 223.72,485.92 227.8,483.5 C231.88,481.08 237.38,476.25 241.5,469.5 C245.62,462.75 249.55,451.3 252.5,443 C255.45,434.7 253.65,429.73 259.2,419.7 C264.75,409.67 273,396 285.8,382.8 C298.6,369.6 320.03,351.97 336,340.5 C351.97,329.03 359.47,321.17 381.6,314 C403.73,306.83 438.85,305.3 468.8,297.5 C498.75,289.7 545.88,272.25 561.3,267.2" fill="none" stroke="#ed7d31" stroke-width="2.9" stroke-linejoin="round" stroke-linecap="round"/>
<path d="M220.2,571.5 L229.6,580.9 M220.2,580.9 L229.6,571.5" stroke="#8f5060" stroke-width="1.2" fill="none"/>
<path d="M251.7,568 L261.1,577.4 M251.7,577.4 L261.1,568" stroke="#8f5060" stroke-width="1.2" fill="none"/>
<path d="M278,553.1 L287.4,562.5 M278,562.5 L287.4,553.1" stroke="#8f5060" stroke-width="1.2" fill="none"/>
<path d="M322.9,545.1 L332.3,554.5 M322.9,554.5 L332.3,545.1" stroke="#8f5060" stroke-width="1.2" fill="none"/>
<path d="M383.6,535.6 L393,545 M383.6,545 L393,535.6" stroke="#8f5060" stroke-width="1.2" fill="none"/>
<path d="M469.5,526.1 L478.9,535.5 M469.5,535.5 L478.9,526.1" stroke="#8f5060" stroke-width="1.2" fill="none"/>
<path d="M523.8,517 L533.2,526.4 M523.8,526.4 L533.2,517" stroke="#8f5060" stroke-width="1.2" fill="none"/>
<polygon points="181.5,483.3 186,487.8 181.5,492.3 177,487.8" fill="#70ad47"/>
<polygon points="189.5,483.8 194,488.3 189.5,492.8 185,488.3" fill="#70ad47"/>
<polygon points="223.5,463 228,467.5 223.5,472 219,467.5" fill="#70ad47"/>
<polygon points="240,456.5 244.5,461 240,465.5 235.5,461" fill="#70ad47"/>
<polygon points="254.5,439 259,443.5 254.5,448 250,443.5" fill="#70ad47"/>
<polygon points="284.5,412.1 289,416.6 284.5,421.1 280,416.6" fill="#70ad47"/>
<polygon points="377.5,351.8 382,356.3 377.5,360.8 373,356.3" fill="#70ad47"/>
<polygon points="416.3,336.8 420.8,341.3 416.3,345.8 411.8,341.3" fill="#70ad47"/>
<polygon points="482.9,314 487.4,318.5 482.9,323 478.4,318.5" fill="#70ad47"/>
<polygon points="558.7,302.4 563.2,306.9 558.7,311.4 554.2,306.9" fill="#70ad47"/>
<polygon points="173.5,537.22 177.7,545.28 169.3,545.28" fill="#ff0000"/>
<polygon points="201.9,530.72 206.1,538.78 197.7,538.78" fill="#ff0000"/>
<polygon points="228.8,484.72 233,492.78 224.6,492.78" fill="#ff0000"/>
<polygon points="256.2,450.32 260.4,458.38 252,458.38" fill="#ff0000"/>
<polygon points="294.7,414.62 298.9,422.68 290.5,422.68" fill="#ff0000"/>
<polygon points="321,397.22 325.2,405.28 316.8,405.28" fill="#ff0000"/>
<polygon points="365.6,375.52 369.8,383.58 361.4,383.58" fill="#ff0000"/>
<polygon points="397.5,358.12 401.7,366.18 393.3,366.18" fill="#ff0000"/>
<polygon points="419.8,348.42 424,356.48 415.6,356.48" fill="#ff0000"/>
<polygon points="446.9,331.82 451.1,339.88 442.7,339.88" fill="#ff0000"/>
<polygon points="491.6,318.62 495.8,326.68 487.4,326.68" fill="#ff0000"/>
<circle cx="181.1" cy="545" r="4.0" fill="#2a5db4"/>
<circle cx="196.9" cy="523.1" r="4.0" fill="#2a5db4"/>
<circle cx="206.4" cy="506.1" r="4.0" fill="#2a5db4"/>
<circle cx="275.4" cy="414.4" r="4.0" fill="#2a5db4"/>
<circle cx="316.2" cy="376.4" r="4.0" fill="#2a5db4"/>
<circle cx="360.5" cy="343" r="4.0" fill="#2a5db4"/>
<circle cx="401.4" cy="325.9" r="4.0" fill="#2a5db4"/>
<circle cx="440.8" cy="299.6" r="4.0" fill="#2a5db4"/>
<rect x="203" y="480.5" width="8.0" height="8.0" fill="#ed7d31"/>
<rect x="213" y="480" width="8.0" height="8.0" fill="#ed7d31"/>
<rect x="223.8" y="479.5" width="8.0" height="8.0" fill="#ed7d31"/>
<rect x="237.5" y="465.5" width="8.0" height="8.0" fill="#ed7d31"/>
<rect x="248.5" y="439" width="8.0" height="8.0" fill="#ed7d31"/>
<rect x="255.2" y="415.7" width="8.0" height="8.0" fill="#ed7d31"/>
<rect x="281.8" y="378.8" width="8.0" height="8.0" fill="#ed7d31"/>
<rect x="332" y="336.5" width="8.0" height="8.0" fill="#ed7d31"/>
<rect x="377.6" y="310" width="8.0" height="8.0" fill="#ed7d31"/>
<rect x="464.8" y="293.5" width="8.0" height="8.0" fill="#ed7d31"/>
<rect x="557.3" y="263.2" width="8.0" height="8.0" fill="#ed7d31"/>
<circle cx="173.1" cy="539.1" r="4.2" fill="#fff" stroke="#2a5db4" stroke-width="2"/>
<circle cx="202.5" cy="521.3" r="4.2" fill="#fff" stroke="#2a5db4" stroke-width="2"/>
<circle cx="365.8" cy="330.1" r="4.2" fill="#fff" stroke="#2a5db4" stroke-width="2"/>
<circle cx="475.5" cy="288" r="4.2" fill="#fff" stroke="#2a5db4" stroke-width="2"/>
<circle cx="585.5" cy="272.5" r="4.2" fill="#fff" stroke="#2a5db4" stroke-width="2"/>
<rect x="161.2" y="483.3" width="9" height="9" fill="none" stroke="#ed7d31" stroke-width="2"/>
<rect x="180.7" y="480.6" width="9" height="9" fill="none" stroke="#ed7d31" stroke-width="2"/>
<rect x="234.6" y="450.1" width="9" height="9" fill="none" stroke="#ed7d31" stroke-width="2"/>
<rect x="269.8" y="397.8" width="9" height="9" fill="none" stroke="#ed7d31" stroke-width="2"/>
<rect x="334.2" y="344.7" width="9" height="9" fill="none" stroke="#ed7d31" stroke-width="2"/>
<rect x="396.9" y="307.9" width="9" height="9" fill="none" stroke="#ed7d31" stroke-width="2"/>
<rect x="471" y="283.4" width="9" height="9" fill="none" stroke="#ed7d31" stroke-width="2"/>
<rect x="526.2" y="269.7" width="9" height="9" fill="none" stroke="#ed7d31" stroke-width="2"/>
<rect x="581" y="261.2" width="9" height="9" fill="none" stroke="#ed7d31" stroke-width="2"/>
<polygon points="172.7,537.53 176,543.97 169.4,543.97" fill="#fff" stroke="#ff0000" stroke-width="2"/>
<polygon points="258,451.03 261.3,457.47 254.7,457.47" fill="#fff" stroke="#ff0000" stroke-width="2"/>
<polygon points="365.5,368.23 368.8,374.67 362.2,374.67" fill="#fff" stroke="#ff0000" stroke-width="2"/>
<polygon points="475.3,315.33 478.6,321.77 472,321.77" fill="#fff" stroke="#ff0000" stroke-width="2"/>
<polygon points="530.1,302.33 533.4,308.77 526.8,308.77" fill="#fff" stroke="#ff0000" stroke-width="2"/>
<polygon points="585.3,283.93 588.6,290.37 582,290.37" fill="#fff" stroke="#ff0000" stroke-width="2"/>
<polygon points="185.2,481 189.7,485.5 185.2,490 180.7,485.5" fill="none" stroke="#70ad47" stroke-width="2"/>
<polygon points="283.5,408.3 288,412.8 283.5,417.3 279,412.8" fill="none" stroke="#70ad47" stroke-width="2"/>
<polygon points="310.5,384.8 315,389.3 310.5,393.8 306,389.3" fill="none" stroke="#70ad47" stroke-width="2"/>
<polygon points="365.4,353.5 369.9,358 365.4,362.5 360.9,358" fill="none" stroke="#70ad47" stroke-width="2"/>
<polygon points="420.7,330.2 425.2,334.7 420.7,339.2 416.2,334.7" fill="none" stroke="#70ad47" stroke-width="2"/>
<polygon points="475,313.2 479.5,317.7 475,322.2 470.5,317.7" fill="none" stroke="#70ad47" stroke-width="2"/>
<polygon points="530.1,300.3 534.6,304.8 530.1,309.3 525.6,304.8" fill="none" stroke="#70ad47" stroke-width="2"/>
<polygon points="585.5,281.9 590,286.4 585.5,290.9 581,286.4" fill="none" stroke="#70ad47" stroke-width="2"/>
<circle cx="213.5" cy="484.5" r="13.1" fill="#fbdbe1" style="mix-blend-mode:multiply"/>
<path d="M205.74,494.43 A12.6,12.6 0 0 1 205.57,474.71 M215.04,471.99 A12.6,12.6 0 0 1 225.73,481.45 M225.18,489.22 A12.6,12.6 0 0 1 215.04,497.01" fill="none" stroke="#000" stroke-width="3.6"/>
<circle cx="240" cy="470.6" r="13.1" fill="#bccdf0" fill-opacity="0.42"/>
<path d="M233.7,481.51 A12.6,12.6 0 0 1 231.57,461.24 M240.44,458.01 A12.6,12.6 0 0 1 251.42,465.28 M251.98,474.49 A12.6,12.6 0 0 1 239.56,483.19" fill="none" stroke="#000" stroke-width="3.6"/>
<circle cx="258.5" cy="419.8" r="13.1" fill="#cbb8ee" fill-opacity="0.42"/>
<path d="M252.2,430.71 A12.6,12.6 0 0 1 250.07,410.44 M259.6,407.25 A12.6,12.6 0 0 1 270.1,414.88 M270.48,423.69 A12.6,12.6 0 0 1 262.6,431.71" fill="none" stroke="#000" stroke-width="3.6"/>
<circle cx="558.1" cy="266.6" r="13.1" fill="#c5e3ab" fill-opacity="0.4"/>
<path d="M551.8,277.51 A12.6,12.6 0 0 1 549.67,257.24 M559.2,254.05 A12.6,12.6 0 0 1 569.7,261.68 M570.08,270.49 A12.6,12.6 0 0 1 562.2,278.51" fill="none" stroke="#000" stroke-width="3.6"/>
<rect x="212.05" y="211.5" width="3.5" height="10.6" fill="#000"/>
<rect x="212.05" y="233" width="3.5" height="14.2" fill="#000"/>
<rect x="212.05" y="257.9" width="3.5" height="14.2" fill="#000"/>
<rect x="212.05" y="282.8" width="3.5" height="14.2" fill="#000"/>
<rect x="212.05" y="307.7" width="3.5" height="14.2" fill="#000"/>
<rect x="212.05" y="332.6" width="3.5" height="14.2" fill="#000"/>
<rect x="212.05" y="357.5" width="3.5" height="14.2" fill="#000"/>
<rect x="212.05" y="382.4" width="3.5" height="14.2" fill="#000"/>
<rect x="212.05" y="407.3" width="3.5" height="14.2" fill="#000"/>
<rect x="212.05" y="432.2" width="3.5" height="14.2" fill="#000"/>
<rect x="212.05" y="457.1" width="3.5" height="14.2" fill="#000"/>
<rect x="556.25" y="215.1" width="3.5" height="13.8" fill="#000"/>
<rect x="557.15" y="239.1" width="3.5" height="13.9" fill="#000"/>
<rect x="238.55" y="484.2" width="3.5" height="13.2" fill="#000"/>
<rect x="238.55" y="509" width="3.5" height="13.2" fill="#000"/>
<rect x="238.55" y="534.2" width="3.5" height="13.1" fill="#000"/>
<rect x="238.55" y="559.4" width="3.5" height="13.2" fill="#000"/>
<rect x="225.9" y="582.25" width="16.15" height="3.5" fill="#000"/>
<rect x="201.3" y="582.25" width="14" height="3.5" fill="#000"/>
<rect x="176.1" y="582.25" width="14.5" height="3.5" fill="#000"/>
<rect x="158.55" y="582.25" width="6.75" height="3.5" fill="#000"/>
<rect x="158.55" y="582.25" width="3.5" height="9.35" fill="#000"/>
<rect x="158.55" y="603.6" width="3.5" height="13.3" fill="#000"/>
<rect x="158.55" y="628.4" width="3.5" height="13.1" fill="#000"/>
<rect x="158.55" y="653.6" width="3.5" height="13.2" fill="#000"/>
<rect x="158.55" y="678.3" width="3.5" height="13.8" fill="#000"/>
<rect x="258.05" y="436.5" width="3.5" height="13.2" fill="#000"/>
<rect x="258.05" y="461.6" width="3.5" height="13.4" fill="#000"/>
<rect x="258.05" y="486.8" width="3.5" height="13.7" fill="#000"/>
<rect x="258.05" y="511.5" width="3.5" height="13.3" fill="#000"/>
<rect x="258.05" y="536.6" width="3.5" height="13.3" fill="#000"/>
<rect x="258.05" y="561.2" width="3.5" height="13.3" fill="#000"/>
<rect x="261.6" y="582.25" width="14" height="3.5" fill="#000"/>
<rect x="286.55" y="582.25" width="14" height="3.5" fill="#000"/>
<rect x="311.5" y="582.25" width="14" height="3.5" fill="#000"/>
<rect x="336.45" y="582.25" width="14" height="3.5" fill="#000"/>
<rect x="361.4" y="582.25" width="14" height="3.5" fill="#000"/>
<rect x="386.35" y="582.25" width="14" height="3.5" fill="#000"/>
<rect x="411.3" y="582.25" width="14" height="3.5" fill="#000"/>
<rect x="436.25" y="582.25" width="14" height="3.5" fill="#000"/>
<rect x="461.2" y="582.25" width="14" height="3.5" fill="#000"/>
<rect x="486.15" y="582.25" width="14" height="3.5" fill="#000"/>
<rect x="511.4" y="582.25" width="11.85" height="3.5" fill="#000"/>
<rect x="519.75" y="582.25" width="3.5" height="5.75" fill="#000"/>
<rect x="519.75" y="599.2" width="3.5" height="13.1" fill="#000"/>
<rect x="519.75" y="624.4" width="3.5" height="13.1" fill="#000"/>
<rect x="519.75" y="649.6" width="3.5" height="12.7" fill="#000"/>
<rect x="519.75" y="673.6" width="3.5" height="13.8" fill="#000"/>
<rect x="442" y="381" width="169" height="123" fill="#fff"/>
<line x1="446.6" y1="394.6" x2="470.0" y2="394.6" stroke="#a01b1b" stroke-width="2.5"/>
<path d="M454,390.3 L462.6,398.9 M454,398.9 L462.6,390.3" stroke="#d89898" stroke-width="1.0" fill="none"/>
<text x="0" y="0" transform="translate(471.82,401.24)" font-size="19.77" fill="#1a1a1a" textLength="125.92" lengthAdjust="spacingAndGlyphs">1300nm, 245fs</text>
<line x1="446.6" y1="418.8" x2="470.0" y2="418.8" stroke="#2a5db4" stroke-width="2.5"/>
<circle cx="458.3" cy="418.8" r="3.7" fill="#2a5db4"/>
<text x="0" y="0" transform="translate(471.82,425.49)" font-size="19.77" fill="#1a1a1a" textLength="115.21" lengthAdjust="spacingAndGlyphs">1420nm, 70fs</text>
<line x1="446.6" y1="443" x2="470.0" y2="443" stroke="#ff0000" stroke-width="2.5"/>
<polygon points="458.3,438.68 462.55,446.82 454.05,446.82" fill="#ff0000"/>
<text x="0" y="0" transform="translate(471.82,449.74)" font-size="19.77" fill="#1a1a1a" textLength="125.92" lengthAdjust="spacingAndGlyphs">1420nm, 240fs</text>
<line x1="446.6" y1="467.2" x2="470.0" y2="467.2" stroke="#ed7d31" stroke-width="2.5"/>
<rect x="454.55" y="463.45" width="7.5" height="7.5" fill="#ed7d31"/>
<text x="0" y="0" transform="translate(471.82,473.99)" font-size="19.77" fill="#1a1a1a" textLength="115.21" lengthAdjust="spacingAndGlyphs">1550nm, 67fs</text>
<line x1="446.6" y1="491.4" x2="470.0" y2="491.4" stroke="#70ad47" stroke-width="2.5"/>
<polygon points="458.3,487.15 462.55,491.4 458.3,495.65 454.05,491.4" fill="#70ad47"/>
<text x="0" y="0" transform="translate(471.82,498.24)" font-size="19.77" fill="#1a1a1a" textLength="125.92" lengthAdjust="spacingAndGlyphs">1550nm, 235fs</text>
</svg>
</body></html>
